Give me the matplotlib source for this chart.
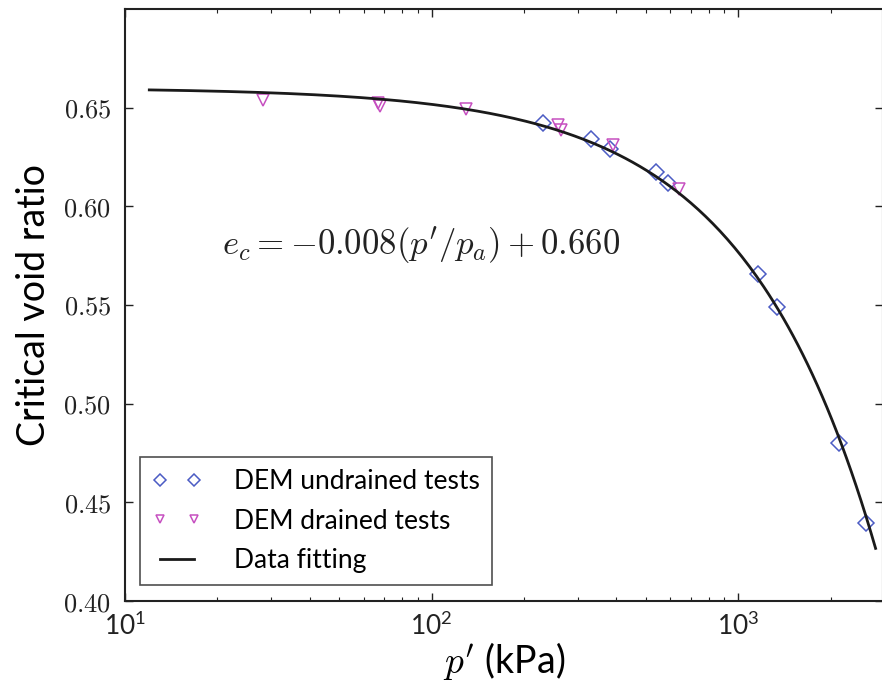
import numpy as np
import matplotlib
matplotlib.use("Agg")
import matplotlib.pyplot as plt
from matplotlib.ticker import FuncFormatter, LogLocator, NullFormatter

plt.rcParams['mathtext.fontset'] = 'cm'
plt.rcParams['font.family'] = ['Lato', 'DejaVu Sans']

# DEM critical state points, p' in kPa
p_undrained = [230, 330, 380, 537, 591, 1161, 1340, 2133, 2612]
e_undrained = [0.642, 0.634, 0.629, 0.6176, 0.612, 0.5655, 0.549, 0.480, 0.4395]

p_drained = [28.1, 66.7, 67.7, 129, 259, 263, 389, 642]
e_drained = [0.654, 0.6525, 0.651, 0.6495, 0.641, 0.6385, 0.631, 0.609]

# fitted critical state line
e_gamma = 0.660
slope = 0.008
p_ref = 96.0
p_fit = np.logspace(np.log10(12), np.log10(2800), 300)
e_fit = e_gamma - slope * (p_fit / p_ref)

fig = plt.figure(figsize=(8.82, 6.84), dpi=100)
ax = fig.add_axes([125/882, 83/684, 758/882, 592/684])

ax.plot(p_undrained, e_undrained, linestyle='none', marker='D', ms=8,
        mfc='none', mec='#4b5cc4', mew=1.1, label='DEM undrained tests')
ax.plot(p_drained, e_drained, linestyle='none', marker='v', ms=8,
        mfc='none', mec='#c64fc0', mew=1.1, label='DEM drained tests')
ax.plot(p_fit, e_fit, color='#1a1a1a', lw=2.0, label='Data fitting')

ax.set_xscale('log')
ax.set_xlim(10, 2960)
ax.set_ylim(0.40, 0.70)
ax.set_yticks([0.40, 0.45, 0.50, 0.55, 0.60, 0.65])
ax.yaxis.set_major_formatter(FuncFormatter(lambda v, pos: r'$%.2f$' % v))
ax.xaxis.set_minor_locator(LogLocator(base=10, subs=np.arange(2, 10)))
ax.xaxis.set_minor_formatter(NullFormatter())

ax.tick_params(which='both', direction='in', top=True, right=True,
               labelsize=19, colors='#222222')
ax.tick_params(which='major', length=6, width=1)
ax.tick_params(which='minor', length=3, width=0.8)
ax.tick_params(axis='x', pad=8)
ax.tick_params(axis='y', pad=10)
for s in ax.spines.values():
    s.set_linewidth(1.5)
    s.set_color('#222222')

ax.set_xlabel(r"$p'$ (kPa)", fontsize=27, labelpad=0)
ax.set_ylabel('Critical void ratio', fontsize=27, labelpad=8)

ax.text(0.39, 0.60, r"$e_c = -0.008(p'/p_a) + 0.660$", transform=ax.transAxes,
        fontsize=25, ha='center', va='center', color='#222222')

leg = ax.legend(loc='lower left', bbox_to_anchor=(0.02, 0.027), borderaxespad=0,
                numpoints=2, fancybox=False, fontsize=19, handlelength=1.9,
                handletextpad=1.2, labelspacing=0.55, borderpad=0.45,
                markerscale=0.8)
leg.get_frame().set_edgecolor('#222222')
leg.get_frame().set_linewidth(1.2)

fig.savefig('out.png', dpi=100)
